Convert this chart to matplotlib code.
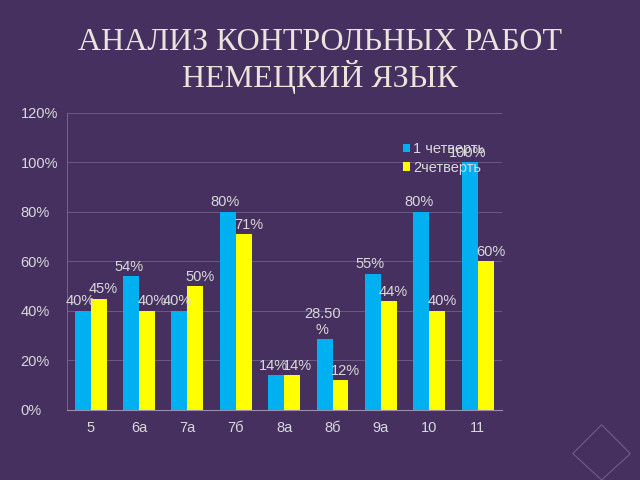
import numpy as np
import matplotlib.pyplot as plt
from matplotlib.patches import Polygon

# данные
classes = ['5', '6а', '7а', '7б', '8а', '8б', '9а', '10', '11']
q1 = [40, 54, 40, 80, 14, 28.5, 55, 80, 100]
q2 = [45, 40, 50, 71, 14, 12, 44, 40, 60]
q1_labels = ['40%', '54%', '40%', '80%', '14%', '28.50\n%', '55%', '80%', '100%']
q2_labels = ['45%', '40%', '50%', '71%', '14%', '12%', '44%', '40%', '60%']

bg = '#45305f'
txt = '#d9d9d9'
plt.rcParams['font.family'] = ['Liberation Sans', 'DejaVu Sans']

fig = plt.figure(figsize=(6.4, 4.8), dpi=100, facecolor=bg)
ax = fig.add_axes([0.104, 0.146, 0.68, 0.619])
ax.set_facecolor(bg)

x = np.arange(len(classes))
w = 0.33
ax.bar(x - w / 2, q1, w, color='#00b0f0', label='1 четверть')
ax.bar(x + w / 2, q2, w, color='#ffff00', label='2четверть')

for xi, v, s in zip(x, q1, q1_labels):
    ax.text(xi - w / 2 - 0.05, v + 1, s, ha='center', va='bottom', color=txt, fontsize=10.5)
for xi, v, s in zip(x, q2, q2_labels):
    ax.text(xi + w / 2 + 0.1, v + 1, s, ha='center', va='bottom', color=txt, fontsize=10.5)

ax.set_xlim(-0.5, len(classes) - 0.5)
ax.set_ylim(0, 120)
ax.set_yticks(range(0, 121, 20))
ax.set_yticklabels([f'{t}%' for t in range(0, 121, 20)])
ax.set_xticks(x)
ax.set_xticklabels(classes)
ax.tick_params(colors=txt, labelsize=10.5, length=0, pad=8)
for lab in ax.get_yticklabels():
    lab.set_horizontalalignment('left')
ax.yaxis.set_tick_params(pad=33)

ax.grid(axis='y', color='#6f6289', linewidth=0.6)
ax.set_axisbelow(True)
for s in ['top', 'right']:
    ax.spines[s].set_visible(False)
ax.spines['bottom'].set_color('#9a8fae')
ax.spines['left'].set_color('#7d7096')
ax.spines['left'].set_linewidth(0.6)

ax.legend(loc='upper left', bbox_to_anchor=(0.76, 0.92), frameon=False,
          fontsize=10.5, labelcolor=txt, handlelength=0.5, handleheight=0.5,
          handletextpad=0.2, labelspacing=0.3, borderaxespad=0)

fig.text(0.5, 0.873, 'АНАЛИЗ КОНТРОЛЬНЫХ РАБОТ\nНЕМЕЦКИЙ ЯЗЫК', ha='center', va='center',
         color='#ece4dc', fontsize=23, family='Liberation Serif', linespacing=1.1)

# ромб в углу
fig.patches.append(Polygon([(0.94, 0.115), (0.985, 0.055), (0.94, 0.0), (0.895, 0.055)],
                           closed=True, fill=False, edgecolor='#6e5f88', linewidth=0.8,
                           transform=fig.transFigure))

fig.savefig('out.png', dpi=100, facecolor=bg)
